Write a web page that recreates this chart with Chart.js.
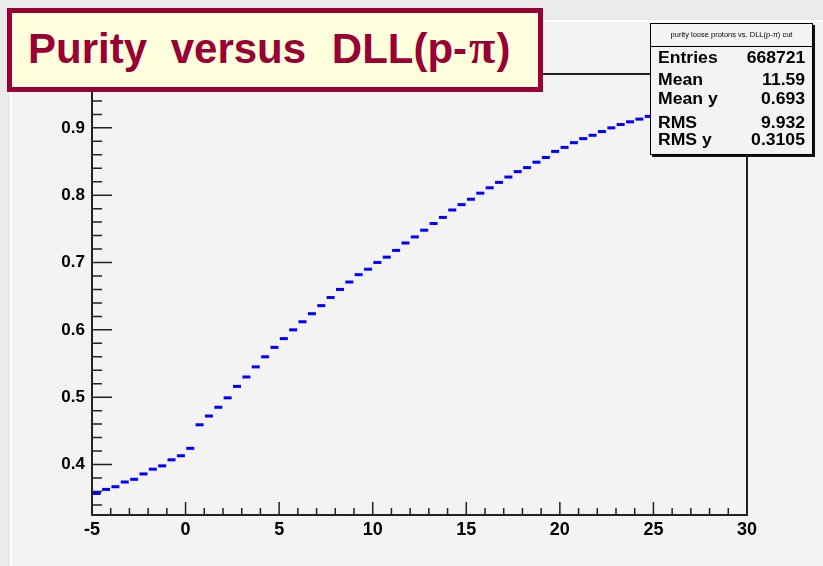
<!DOCTYPE html>
<html>
<head>
<meta charset="utf-8">
<title>Purity versus DLL(p-π)</title>
<script src="https://cdn.jsdelivr.net/npm/chart.js@4/dist/chart.umd.min.js"></script>
<style>
  html, body { margin: 0; padding: 0; background: #ebebeb; }
  body { width: 823px; height: 566px; position: relative; overflow: hidden; font-family: "Liberation Sans", Arial, sans-serif; }
  #c { position: absolute; left: 0; top: 0; width: 823px; height: 566px; }
  .title-box {
    position: absolute; left: 7px; top: 8px; width: 536px; height: 84px;
    box-sizing: border-box; border: 5px solid #990033; background: #ffffdd;
  }
  .title-box span.t {
    position: absolute; left: 16px; top: 15px; white-space: nowrap;
    font: bold 42px/42px "Liberation Sans", Arial, sans-serif; color: #990033;
    word-spacing: 12px;
  }
  .title-box .dll { margin-left: 2px; }
  .title-box .pi { font-family: "Liberation Serif", "DejaVu Serif", serif; font-weight: bold; font-size: 48px; line-height: 0; margin: 0 1px 0 2px; }
  .stats {
    position: absolute; left: 650px; top: 23px; width: 163px; height: 132px;
    box-sizing: border-box; border: 1px solid #000; background: #f3f3f3;
    box-shadow: 2px 2px 0 #111;
  }
  .stats .head {
    position: absolute; left: 0; right: 0; top: 0; height: 22px; border-bottom: 1px solid #000;
    font: 7.5px/22px "Liberation Sans", Arial, sans-serif; text-align: center; color: #000;
  }
  .stats .row { position: absolute; left: 7px; right: 7px; height: 16px; font: bold 16px/16px "Liberation Sans", Arial, sans-serif; color: #000; }
  .stats .row .k { position: absolute; left: 0; top: 0; transform: scaleX(1.1); transform-origin: left center; }
  .stats .row .v { position: absolute; right: 0; top: 0; transform: scaleX(1.1); transform-origin: right center; }
</style>
</head>
<body>
<canvas id="c" width="823" height="566"></canvas>

<div class="title-box"><span class="t">Purity versus <span class="dll">DLL(p-<span class="pi">π</span>)</span></span></div>

<div class="stats">
  <div class="head">purity loose protons vs. DLL(p-π) cut</div>
  <div class="row" style="top:26px"><span class="k">Entries</span><span class="v">668721</span></div>
  <div class="row" style="top:48px"><span class="k">Mean</span><span class="v">11.59</span></div>
  <div class="row" style="top:67px"><span class="k">Mean y</span><span class="v">0.693</span></div>
  <div class="row" style="top:91px"><span class="k">RMS</span><span class="v">9.932</span></div>
  <div class="row" style="top:108px"><span class="k">RMS y</span><span class="v">0.3105</span></div>
</div>

<script>
// DLL(p-pi) cut value: centre of each 0.5-wide bin
const binCenters = [
  -4.75, -4.25, -3.75, -3.25, -2.75, -2.25, -1.75, -1.25, -0.75, -0.25,
   0.25,  0.75,  1.25,  1.75,  2.25,  2.75,  3.25,  3.75,  4.25,  4.75,
   5.25,  5.75,  6.25,  6.75,  7.25,  7.75,  8.25,  8.75,  9.25,  9.75,
  10.25, 10.75, 11.25, 11.75, 12.25, 12.75, 13.25, 13.75, 14.25, 14.75,
  15.25, 15.75, 16.25, 16.75, 17.25, 17.75, 18.25, 18.75, 19.25, 19.75,
  20.25, 20.75, 21.25, 21.75, 22.25, 22.75, 23.25, 23.75, 24.25, 24.75
];

// proton purity for loose protons passing each cut
const purity = [
  0.357, 0.363, 0.367, 0.374, 0.378, 0.386, 0.393, 0.398, 0.407, 0.413,
  0.424, 0.459, 0.472, 0.485, 0.499, 0.516, 0.530, 0.545, 0.560, 0.574,
  0.587, 0.600, 0.612, 0.624, 0.636, 0.648, 0.660, 0.671, 0.682, 0.690,
  0.700, 0.708, 0.718, 0.729, 0.738, 0.748, 0.758, 0.767, 0.778, 0.786,
  0.794, 0.803, 0.811, 0.819, 0.827, 0.835, 0.841, 0.849, 0.856, 0.865,
  0.871, 0.878, 0.884, 0.889, 0.8945, 0.900, 0.905, 0.909, 0.913, 0.917
];

const xTickLabels = [-5, 0, 5, 10, 15, 20, 25, 30];
const yTickLabels = [0.4, 0.5, 0.6, 0.7, 0.8, 0.9];

const X_RANGE = [-5, 30];
const Y_RANGE = [0.325, 0.98];
const X_MINOR_STEP = 1;     // minor tick every unit
const Y_MINOR_STEP = 0.02;  // minor tick every 0.02

// grey canvas pad with light bevel edge
const padBackground = {
  id: 'padBackground',
  beforeDraw(chart) {
    const ctx = chart.ctx;
    ctx.save();
    ctx.fillStyle = '#ebebeb';
    ctx.fillRect(0, 0, chart.width, chart.height);
    ctx.fillStyle = '#f3f3f3';
    ctx.fillRect(10, 20, chart.width - 10, chart.height - 20);
    ctx.fillStyle = '#ffffff';
    ctx.fillRect(10, 20, chart.width - 10, 2);
    ctx.fillRect(10, 20, 2, chart.height - 20);
    ctx.restore();
  }
};

// frame box with inward-pointing ticks
const frameAndTicks = {
  id: 'frameAndTicks',
  beforeDatasetsDraw(chart) {
    const { ctx, chartArea: a, scales } = chart;
    const xs = scales.x, ys = scales.y;
    ctx.save();
    ctx.strokeStyle = '#222';
    ctx.lineWidth = 2;
    ctx.strokeRect(a.left, a.top, a.right - a.left, a.bottom - a.top);

    ctx.lineWidth = 1.5;
    ctx.beginPath();
    // y axis
    yTickLabels.forEach(v => {
      const y = ys.getPixelForValue(v);
      ctx.moveTo(a.left, y); ctx.lineTo(a.left + 20, y);
    });
    const kMin = Math.ceil(Y_RANGE[0] / Y_MINOR_STEP - 1e-6);
    const kMax = Math.floor(Y_RANGE[1] / Y_MINOR_STEP - 0.5);
    for (let k = kMin; k <= kMax; k++) {
      if (k % 5 === 0) continue;
      const y = ys.getPixelForValue(k * Y_MINOR_STEP);
      ctx.moveTo(a.left, y); ctx.lineTo(a.left + 10, y);
    }
    // x axis
    xTickLabels.forEach(v => {
      const x = xs.getPixelForValue(v);
      ctx.moveTo(x, a.bottom); ctx.lineTo(x, a.bottom - 13);
    });
    for (let v = X_RANGE[0] + X_MINOR_STEP; v < X_RANGE[1]; v += X_MINOR_STEP) {
      if (v % 5 === 0) continue;
      const x = xs.getPixelForValue(v);
      ctx.moveTo(x, a.bottom); ctx.lineTo(x, a.bottom - 7);
    }
    ctx.stroke();
    ctx.restore();
  }
};

new Chart(document.getElementById('c'), {
  type: 'scatter',
  data: {
    datasets: [{
      data: binCenters.map((x, i) => ({ x: x, y: purity[i] })),
      showLine: false,
      pointStyle: 'line',
      pointRadius: 4,
      pointHoverRadius: 4,
      pointBorderWidth: 3,
      pointHoverBorderWidth: 3,
      pointBorderColor: '#0000ff',
      pointBackgroundColor: '#0000ff',
      clip: false
    }]
  },
  options: {
    responsive: false,
    devicePixelRatio: 1,
    animation: false,
    events: [],
    layout: { padding: { top: 74, right: 76, bottom: 0, left: 0 } },
    plugins: { legend: { display: false }, tooltip: { enabled: false } },
    scales: {
      x: {
        type: 'linear', min: X_RANGE[0], max: X_RANGE[1],
        grid: { display: false, drawTicks: false },
        border: { display: false },
        afterBuildTicks: s => { s.ticks = xTickLabels.map(v => ({ value: v })); },
        afterFit: s => { s.height = 51; },
        ticks: {
          padding: 4, color: '#000', maxRotation: 0, autoSkip: false,
          font: { family: '"Liberation Sans", Arial, sans-serif', size: 18, weight: 'bold' },
          callback: v => String(v)
        }
      },
      y: {
        type: 'linear', min: Y_RANGE[0], max: Y_RANGE[1],
        grid: { display: false, drawTicks: false },
        border: { display: false },
        afterBuildTicks: s => { s.ticks = yTickLabels.map(v => ({ value: v })); },
        afterFit: s => { s.width = 92; },
        ticks: {
          padding: 7, color: '#000', autoSkip: false,
          font: { family: '"Liberation Sans", Arial, sans-serif', size: 17, weight: 'bold' },
          callback: v => v.toFixed(1)
        }
      }
    }
  },
  plugins: [padBackground, frameAndTicks]
});
</script>
</body>
</html>
